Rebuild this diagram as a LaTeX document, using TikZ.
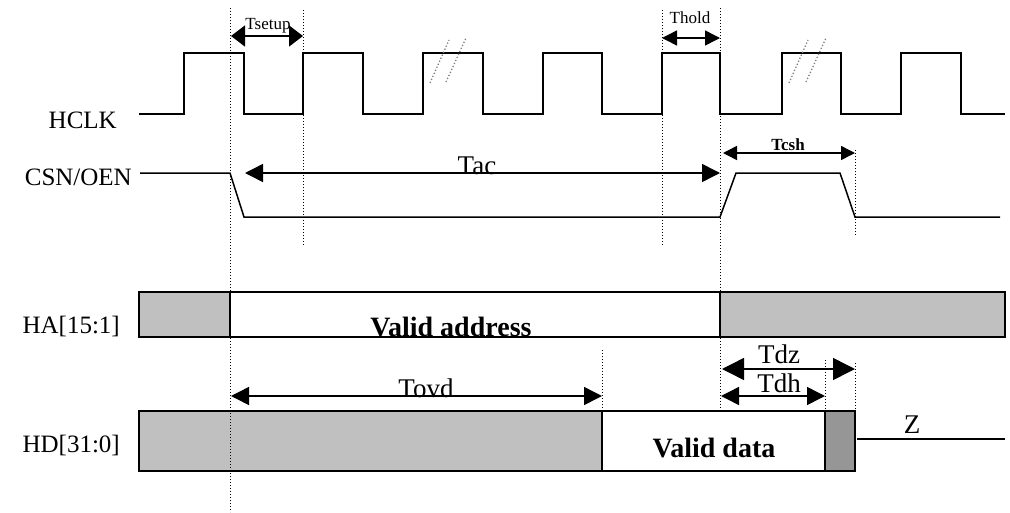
\documentclass[tikz,border=0pt]{standalone}
\usepackage{fontspec}
\setmainfont{Liberation Serif}
\usetikzlibrary{arrows.meta}

\definecolor{busgray}{HTML}{C0C0C0}
\definecolor{drvgray}{HTML}{969696}

\begin{document}
\begin{tikzpicture}[x=1pt, y=-1pt,
  sig/.style={line width=1.5pt, black},
  bus/.style={draw=black, line width=1.5pt},
  guide/.style={dotted, line width=1pt},
  brk/.style={dotted, gray, line width=1.3pt},
  tarrow/.style={{Triangle[length=#1,width=#1]}-{Triangle[length=#1,width=#1]}, line width=1.5pt},
  tarrow/.default=18pt,
  tsetarrow/.style={{Triangle[length=14pt,width=21pt]}-{Triangle[length=14pt,width=21pt]}, line width=1.5pt},
  sname/.style={anchor=base east, inner sep=0pt, font=\fontsize{25}{28}\selectfont},
  big/.style={anchor=base, inner sep=0pt, font=\fontsize{27}{30}\selectfont},
  small/.style={anchor=base, inner sep=0pt, font=\fontsize{17}{20}\selectfont},
  val/.style={anchor=base, inner sep=0pt, font=\fontsize{28}{31}\selectfont\bfseries}
]
\useasboundingbox (0,0) rectangle (1010,512);

%% Signal names
\node[sname] (nclk) at (117,128) {HCLK};
\node[sname] (ncsn) at (132,185) {CSN/OEN};
\node[sname] (nha)  at (120,333) {HA[15:1]};
\node[sname] (nhd)  at (120,452) {HD[31:0]};

%% HCLK
\draw[sig] (139,114)
  foreach \r/\f in {184/244, 303/363, 423/483, 543/602, 662/720, 782/841, 901/961}
    { -- (\r,114) -- (\r,53) -- (\f,53) -- (\f,114) }
  -- (1005,114);
\draw[brk] (430,83) -- (449,40);
\draw[brk] (446,82) -- (466,38);
\draw[brk] (789,83) -- (808,40);
\draw[brk] (806,82) -- (826,38);

%% CSN/OEN
\draw[sig] (140,173) -- (230,173) -- (244,217) -- (720,217) -- (736,173)
  -- (840,173) -- (855,217) -- (1000,217);

%% HA[15:1]
\filldraw[bus, fill=busgray] (139,292) rectangle (230,337);
\draw[bus] (230,292) rectangle (720,337);
\filldraw[bus, fill=busgray] (720,292) rectangle (1005,337);
\node[val] (vaddr) at (451,336) {Valid address};

%% HD[31:0]
\filldraw[bus, fill=busgray] (139,411) rectangle (602,471);
\draw[bus] (602,411) rectangle (825,471);
\filldraw[bus, fill=drvgray] (825,411) rectangle (855,471);
\draw[sig] (857,439) -- (1005,439);
\node[val] (vdata) at (714,457) {Valid data};
\node[big] (hiz) at (912,433) {Z};

%% Guides
\draw[guide] (230,8) -- (230,512);
\draw[guide] (303,10) -- (303,245);
\draw[guide] (662,10) -- (662,245);
\draw[guide] (720,8) -- (720,410);
\draw[guide] (855,150) -- (855,235);
\draw[guide] (855,363) -- (855,410);
\draw[guide] (825,360) -- (825,410);
\draw[guide] (602,350) -- (602,410);

%% Timing arrows
\coordinate (su1) at (231,36);  \coordinate (su2) at (303,36);
\coordinate (ho1) at (662,38);  \coordinate (ho2) at (720,38);
\coordinate (ac1) at (245,173); \coordinate (ac2) at (720,173);
\coordinate (cs1) at (723,153); \coordinate (cs2) at (855,153);
\coordinate (ov1) at (231,396); \coordinate (ov2) at (602,396);
\coordinate (dz1) at (722,369); \coordinate (dz2) at (855,369);
\coordinate (dh1) at (721,396); \coordinate (dh2) at (825,396);
\draw[tsetarrow] (su1) -- (su2);
\draw[tarrow=15pt] (ho1) -- (ho2);
\draw[tarrow] (ac1) -- (ac2);
\draw[tarrow=14pt] (cs1) -- (cs2);
\draw[tarrow] (ov1) -- (ov2);
\draw[tarrow=22pt] (dz1) -- (dz2);
\draw[tarrow] (dh1) -- (dh2);

%% Timing labels
\node[small] (lsu) at (268,29) {Tsetup};
\node[small] (lho) at (690,23) {Thold};
\node[small, font=\fontsize{17}{20}\selectfont\bfseries] (lcs) at (788,150) {Tcsh};
\node[big] (lac) at (477,174) {Tac};
\node[big] (lov) at (426,397) {Tovd};
\node[big] (ldz) at (779,363) {Tdz};
\node[big] (ldh) at (779,392) {Tdh};
\end{tikzpicture}
\end{document}
